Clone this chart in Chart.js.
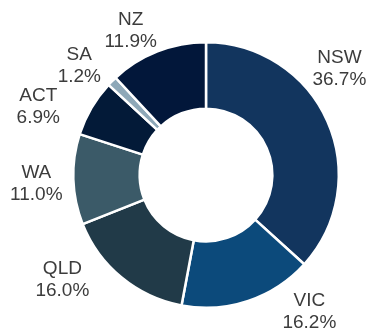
<!DOCTYPE html>
<html>
<head>
<meta charset="utf-8">
<style>
  html, body { margin: 0; padding: 0; background: #ffffff; }
  #wrap { width: 367px; height: 331px; position: relative; }
</style>
<script src="https://cdn.jsdelivr.net/npm/chart.js@4.4.1/dist/chart.umd.min.js"></script>
</head>
<body>
<div id="wrap"><canvas id="chart" width="367" height="331"></canvas></div>
<script>
// Share by region (%), clockwise from 12 o'clock
const regions = ['NSW', 'VIC', 'QLD', 'WA', 'ACT', 'SA', 'NZ'];
const shares = [36.7, 16.2, 16.0, 11.0, 6.9, 1.2, 11.9];
const sliceColors = ['#12355e', '#0c4a7b', '#213a48', '#3b5a68', '#031a38', '#8ea8b8', '#02173a'];

// Outside labels: anchored on each slice's mid-angle, then shifted to sit clear of the ring
const labelGap = 35;
const labelShift = [[-20, -38], [50, -22], [-37, -25], [-2, 3], [-23, 17], [-8, 9], [-14, 12]];

const outsideLabels = {
  id: 'outsideLabels',
  afterDatasetsDraw(chart) {
    const ctx = chart.ctx;
    const meta = chart.getDatasetMeta(0);
    ctx.save();
    ctx.font = '19px "Liberation Sans", Arial, sans-serif';
    ctx.fillStyle = '#3c3c3c';
    ctx.textAlign = 'center';
    ctx.textBaseline = 'middle';
    meta.data.forEach((arc, i) => {
      const p = arc.getProps(['x', 'y', 'startAngle', 'endAngle', 'outerRadius'], true);
      const mid = (p.startAngle + p.endAngle) / 2;
      const r = p.outerRadius + labelGap;
      const x = p.x + Math.cos(mid) * r + labelShift[i][0];
      const y = p.y + Math.sin(mid) * r + labelShift[i][1];
      ctx.fillText(regions[i], x, y - 11);
      ctx.fillText(shares[i].toFixed(1) + '%', x, y + 11);
    });
    ctx.restore();
  }
};

new Chart(document.getElementById('chart'), {
  type: 'doughnut',
  data: {
    labels: regions,
    datasets: [{
      data: shares,
      backgroundColor: sliceColors,
      borderColor: '#ffffff',
      borderWidth: 2.5
    }]
  },
  options: {
    responsive: false,
    animation: false,
    cutout: '50%',
    layout: { padding: { left: 72, right: 27, top: 41, bottom: 22 } },
    plugins: {
      legend: { display: false },
      tooltip: { enabled: false }
    }
  },
  plugins: [outsideLabels]
});
</script>
</body>
</html>
